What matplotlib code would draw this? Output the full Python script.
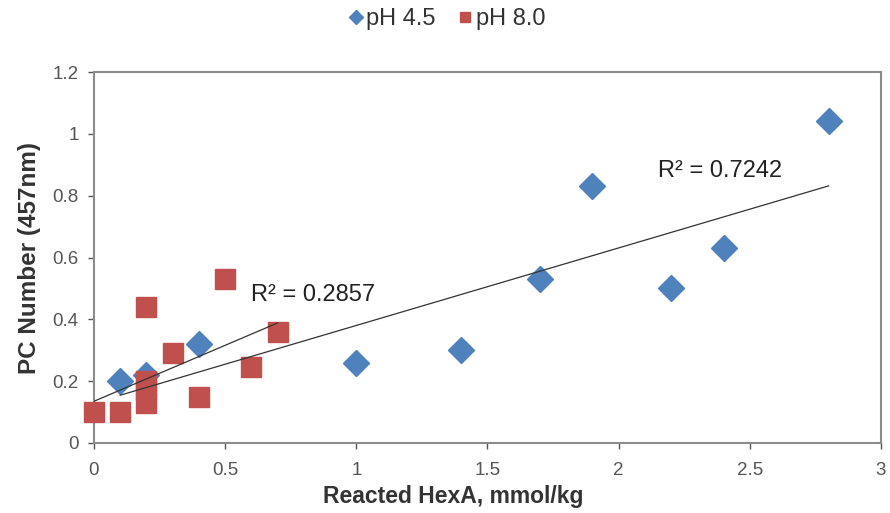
import numpy as np
import matplotlib
matplotlib.use("Agg")
import matplotlib.pyplot as plt
from matplotlib.ticker import FuncFormatter

plt.rcParams['font.family'] = ['Liberation Sans', 'DejaVu Sans']

# pH 4.5 series
x_45 = [0.1, 0.2, 0.4, 1.0, 1.4, 1.7, 1.9, 2.2, 2.4, 2.8]
y_45 = [0.20, 0.22, 0.32, 0.26, 0.30, 0.53, 0.83, 0.50, 0.63, 1.04]

# pH 8.0 series
x_80 = [0.0, 0.1, 0.2, 0.2, 0.2, 0.2, 0.3, 0.4, 0.5, 0.6, 0.7]
y_80 = [0.10, 0.10, 0.44, 0.20, 0.17, 0.13, 0.29, 0.15, 0.53, 0.245, 0.36]

r2_labels = ["R\u00b2 = 0.7242", "R\u00b2 = 0.2857"]

blue = "#4F81BD"
red = "#C0504D"

fig = plt.figure(figsize=(8.9, 5.13), dpi=100)
ax = fig.add_axes([0.1056, 0.1365, 0.8843, 0.7231])

ax.plot(x_45, y_45, linestyle="none", marker="D", markersize=13,
        color=blue, label="pH 4.5", zorder=3, clip_on=False)
ax.plot(x_80, y_80, linestyle="none", marker="s", markersize=14,
        color=red, label="pH 8.0", zorder=3, clip_on=False)

# linear trendlines over each series' range
for xs, ys in [(x_45, y_45), (x_80, y_80)]:
    k, b = np.polyfit(xs, ys, 1)
    xx = np.array([min(xs), max(xs)])
    ax.plot(xx, k * xx + b, color="#333333", linewidth=0.9, zorder=4)

ax.text(2.15, 0.88, r2_labels[0], fontsize=17, color="#222222", va="center")
ax.text(0.60, 0.48, r2_labels[1], fontsize=17, color="#222222", va="center")

ax.set_xlim(0, 3)
ax.set_ylim(0, 1.2)
ax.set_xticks(np.arange(0, 3.01, 0.5))
ax.set_yticks(np.arange(0, 1.21, 0.2))
fmt = FuncFormatter(lambda v, p: "%g" % round(v, 2))
ax.xaxis.set_major_formatter(fmt)
ax.yaxis.set_major_formatter(fmt)
ax.tick_params(labelsize=13.5, colors="#555555", length=4, width=1,
               direction="out")
ax.tick_params(axis="x", pad=10)
ax.tick_params(axis="y", pad=7)
for s in ax.spines.values():
    s.set_color("#8c8c8c")
    s.set_linewidth(1.5)

ax.set_xlabel("Reacted HexA, mmol/kg", fontsize=16.5, fontweight="bold",
              color="#333333")
ax.xaxis.set_label_coords(0.457, -0.112)
ax.set_ylabel("PC Number (457nm)", fontsize=17.5, fontweight="bold",
              color="#333333", labelpad=8)

fig.legend(loc="center", bbox_to_anchor=(0.503, 0.962), ncol=2,
           frameon=False, fontsize=17, markerscale=0.55, handlelength=0.5,
           handletextpad=0.2, columnspacing=1.0, labelcolor="#333333")

fig.savefig("out.png", dpi=100)
